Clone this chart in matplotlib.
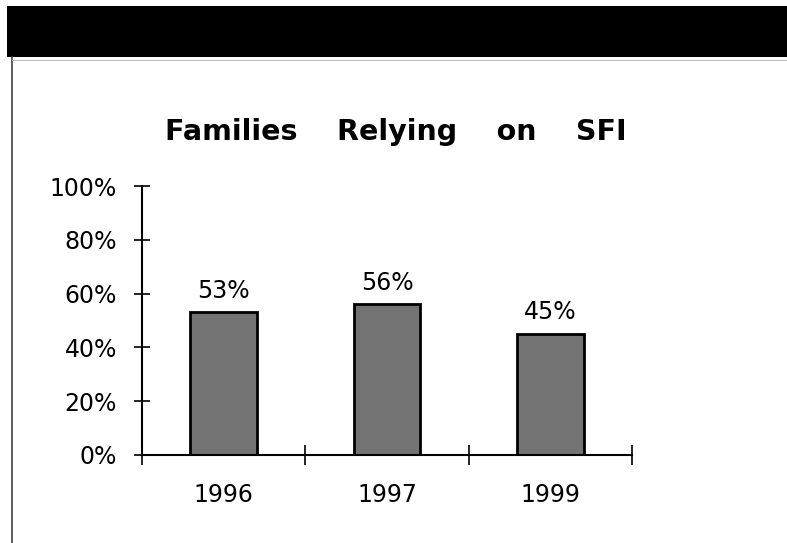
import matplotlib
matplotlib.use("Agg")
import matplotlib.pyplot as plt
from matplotlib.patches import Rectangle
from matplotlib.lines import Line2D

plt.rcParams['font.family'] = ['DejaVu Sans']

# data
years = ['1996', '1997', '1999']
shares = [53, 56, 45]
bar_labels = ['53%', '56%', '45%']
yticks = [0, 20, 40, 60, 80, 100]
ytick_labels = ['0%', '20%', '40%', '60%', '80%', '100%']

fig = plt.figure(figsize=(7.87, 5.43), dpi=100)

# black header band and left rule
fig.patches.append(Rectangle((7/787, 1 - 57/543), 1, 51/543, transform=fig.transFigure,
                             facecolor='black', edgecolor='none'))
fig.lines.append(Line2D([12/787, 12/787], [0, 1 - 57/543], transform=fig.transFigure,
                        color='#444444', linewidth=1.2))
fig.lines.append(Line2D([12/787, 1], [1 - 60/543, 1 - 60/543], transform=fig.transFigure,
                        color='#bbbbbb', linewidth=0.8))

ax = fig.add_axes([142/787, 1 - 455/543, 490/787, 269/543])
x = range(len(years))
ax.bar(x, shares, width=0.41, color='#737373', edgecolor='black', linewidth=2)

for xi, v, lab in zip(x, shares, bar_labels):
    ax.annotate(lab, (xi, v), xytext=(0, 7), textcoords='offset points',
                ha='center', va='bottom', fontsize=17)

ax.set_xlim(-0.5, 2.5)
ax.set_ylim(0, 100)
ax.set_yticks(yticks)
ax.set_yticklabels(ytick_labels, fontsize=17)
ax.set_xticks(list(x))
ax.set_xticklabels(years, fontsize=17)
ax.set_xticks([-0.5, 0.5, 1.5, 2.5], minor=True)

ax.tick_params(axis='y', direction='inout', length=12, width=1.2, pad=12)
ax.tick_params(axis='x', which='major', length=0, pad=20)
ax.tick_params(axis='x', which='minor', direction='inout', length=14, width=1.2)

for s in ['top', 'right']:
    ax.spines[s].set_visible(False)
for s in ['left', 'bottom']:
    ax.spines[s].set_linewidth(1.5)

fig.text(0.503, 1 - 132/543, 'Families    Relying    on    SFI', ha='center', va='center',
         fontsize=20.5, fontweight='bold')

fig.savefig('out.png', dpi=100)
